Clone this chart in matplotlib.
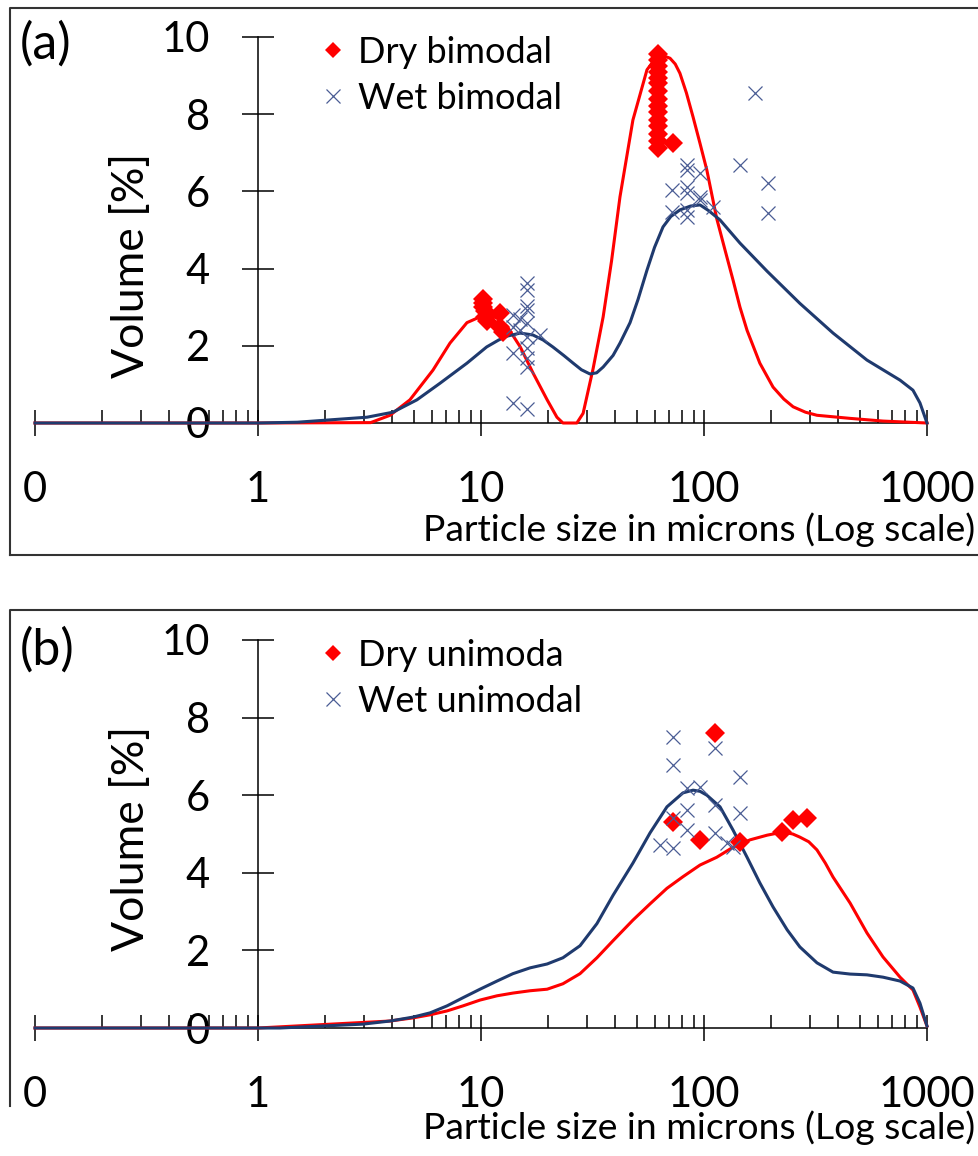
import matplotlib
matplotlib.use("Agg")
import matplotlib.pyplot as plt
from matplotlib.ticker import LogLocator, NullFormatter
from matplotlib.lines import Line2D

plt.rcParams["font.family"] = ["Lato", "DejaVu Sans"]

# ---- panel (a): bimodal ----
a_dry_curve_x = [0.1, 1.0, 3.2, 3.91, 4.8, 6.09, 7.26, 8.65, 9.9, 10.6, 11.8, 13.1, 15.0, 17.1, 19.8,
                 21.9, 23.3, 26.9, 28.7, 31.8, 35.3, 38.5, 42.0, 48.0, 55.5, 59.4, 63.5, 66.8, 70.4,
                 74.3, 78.0, 83.4, 89.3, 95.9, 103, 114, 124, 135, 145, 156, 178, 204, 228, 251,
                 285, 321, 452, 635, 1000]
a_dry_curve_y = [0, 0, 0.01, 0.2, 0.6, 1.37, 2.07, 2.6, 2.75, 2.8, 2.72, 2.5, 1.97, 1.3, 0.6,
                 0.15, 0, 0, 0.25, 1.4, 2.75, 4.2, 5.86, 7.85, 9.15, 9.38, 9.48, 9.5, 9.45,
                 9.3, 9.06, 8.55, 7.93, 7.25, 6.55, 5.3, 4.5, 3.7, 3.0, 2.4, 1.55, 0.93, 0.62, 0.42,
                 0.28, 0.2, 0.12, 0.05, 0]

a_wet_curve_x = [0.1, 1.0, 1.5, 3.08, 4.03, 5.16, 6.55, 8.65, 10.6, 12.0, 13.1, 15.0, 17.1, 19.0,
                 21.0, 23.5, 25.9, 28.2, 30.8, 33.0, 35.3, 39.1, 42.0, 46.6, 50.6, 55.5, 60.0, 65.5,
                 71.0, 78.0, 87.0, 96, 105, 118, 145, 192, 269, 379, 538, 757, 865, 930, 1000]
a_wet_curve_y = [0, 0, 0.02, 0.15, 0.28, 0.6, 1.03, 1.55, 1.97, 2.15, 2.25, 2.33, 2.28, 2.15,
                 1.97, 1.75, 1.55, 1.38, 1.27, 1.3, 1.45, 1.75, 2.07, 2.6, 3.2, 3.96, 4.55, 5.08,
                 5.35, 5.52, 5.62, 5.65, 5.5, 5.26, 4.66, 3.93, 3.1, 2.33, 1.63, 1.11, 0.85, 0.52, 0.0]

a_dry_pts_x = [10.2, 10.2, 10.2, 10.4, 10.4, 10.6, 12.2, 12.2, 12.6,
               62, 62, 62, 62, 62, 62, 62, 62, 62, 62, 62, 62, 62, 62, 62, 72.6]
a_dry_pts_y = [3.2, 3.1, 3.0, 2.9, 2.75, 2.65, 2.85, 2.5, 2.36,
               9.55, 9.4, 9.25, 9.1, 8.95, 8.8, 8.6, 8.4, 8.2, 8.05, 7.85, 7.7, 7.5, 7.3, 7.12, 7.25]

a_wet_pts_x = [16.1, 16.1, 16.1, 16.1, 16.1, 16.1, 16.1, 16.1, 16.1, 13.9, 13.9, 13.9, 18.4, 13.9,
               16.1, 15.0, 15.0, 83.9, 83.9, 95.9, 71.9, 83.9, 83.9, 95.9, 71.9, 83.9, 83.9, 95.9,
               110, 145, 169, 194, 194]
a_wet_pts_y = [3.63, 3.45, 3.03, 2.93, 2.6, 2.23, 1.95, 1.68, 1.45, 2.8, 2.5, 1.81, 2.28, 0.52,
               0.37, 2.7, 2.4, 6.68, 6.55, 6.48, 6.04, 6.11, 5.96, 5.86, 5.47, 5.52, 5.34, 5.78,
               5.6, 6.68, 8.55, 6.22, 5.44]

# ---- panel (b): unimodal ----
b_dry_curve_x = [0.1, 1.0, 1.255, 3.91, 4.95, 5.91, 7.04, 8.3, 9.9, 11.8, 13.9, 16.6, 19.8, 23.3,
                 27.8, 33.1, 39.1, 48.0, 57.3, 68.2, 80.5, 96, 114, 135, 161, 192, 226, 250, 269,
                 295, 321, 350, 379, 452, 538, 635, 757, 865, 930, 1000]
b_dry_curve_y = [0, 0, 0.03, 0.18, 0.26, 0.34, 0.44, 0.57, 0.72, 0.83, 0.9, 0.96, 1.0, 1.14,
                 1.40, 1.81, 2.25, 2.78, 3.2, 3.6, 3.9, 4.2, 4.4, 4.66, 4.85, 4.97, 5.05, 5.0, 4.92,
                 4.8, 4.59, 4.25, 3.89, 3.22, 2.45, 1.83, 1.31, 0.98, 0.54, 0.05]

b_wet_curve_x = [0.1, 1.0, 1.255, 2.96, 3.91, 4.95, 5.91, 7.04, 8.3, 9.9, 11.8, 13.9, 16.6, 19.8,
                 23.3, 27.8, 33.1, 39.1, 48.0, 57.3, 68.2, 80.5, 89.3, 96, 103, 118, 135, 156, 178,
                 204, 236, 269, 321, 379, 452, 538, 635, 757, 865, 930, 1000]
b_wet_curve_y = [0, 0, 0.0, 0.1, 0.18, 0.28, 0.39, 0.57, 0.78, 1.0, 1.21, 1.4, 1.55, 1.65,
                 1.81, 2.12, 2.69, 3.42, 4.25, 5.03, 5.7, 6.06, 6.13, 6.1, 6.0, 5.7, 5.1, 4.4, 3.74,
                 3.12, 2.53, 2.09, 1.68, 1.44, 1.39, 1.37, 1.31, 1.21, 1.03, 0.64, 0.05]

b_dry_pts_x = [72.6, 112, 95.9, 145, 224, 251, 290]
b_dry_pts_y = [5.31, 7.6, 4.85, 4.8, 5.05, 5.36, 5.41]

b_wet_pts_x = [72.6, 72.6, 112, 83.9, 95.9, 145, 83.9, 112, 145, 72.6, 83.9, 112, 63.5, 72.6, 127, 135]
b_wet_pts_y = [7.5, 6.78, 7.22, 6.19, 6.21, 6.47, 5.62, 5.75, 5.54, 5.41, 5.1, 5.03, 4.72, 4.64, 4.77, 4.66]

x_ticks = [0.1, 1, 10, 100, 1000]
x_tick_labels = ["0", "1", "10", "100", "1000"]
y_ticks = [0, 2, 4, 6, 8, 10]

RED = "#FF0000"
NAVY = "#1F3A6E"
SLATE = "#4A5D94"

W, H = 979, 1156
fig = plt.figure(figsize=(W / 100, H / 100), dpi=100)


def add_px_axes(left, right, top, bottom):
    return fig.add_axes([left / W, 1 - bottom / H, (right - left) / W, (bottom - top) / H])


def draw_panel(ax, dry_x, dry_y, wet_x, wet_y, dpx, dpy, wpx, wpy, dry_label, wet_label, leg_top):
    ax.plot(dry_x, dry_y, color=RED, lw=2.2, clip_on=False, zorder=3, solid_joinstyle="round")
    ax.plot(wet_x, wet_y, color=NAVY, lw=2.2, clip_on=False, zorder=3, solid_joinstyle="round")
    ax.plot(dpx, dpy, ls="none", marker="D", ms=10, color=RED, mew=0, zorder=4)
    ax.plot(wpx, wpy, ls="none", marker="x", ms=9.5, color=SLATE, mew=0.9, zorder=5)

    ax.set_xscale("log")
    ax.set_xlim(0.1, 1000)
    ax.set_ylim(0, 10)
    for s in ["top", "right"]:
        ax.spines[s].set_visible(False)
    ax.spines["left"].set_position(("data", 1))
    ax.spines["left"].set_linewidth(1.1)
    ax.spines["bottom"].set_linewidth(1.1)
    ax.patch.set_visible(False)

    ax.set_xticks(x_ticks)
    ax.set_xticklabels(x_tick_labels)
    ax.xaxis.set_minor_locator(LogLocator(base=10, subs=[2, 3, 4, 5, 6, 7, 8, 9], numticks=20))
    ax.xaxis.set_minor_formatter(NullFormatter())
    ax.set_yticks(y_ticks)
    ax.tick_params(axis="y", direction="inout", length=23, width=1.1, pad=23, labelsize=30)
    ax.tick_params(axis="x", which="major", direction="inout", length=19, width=1.1, pad=25, labelsize=30)
    ax.tick_params(axis="x", which="minor", direction="in", length=9.5, width=1.1)

    handles = [
        Line2D([], [], ls="none", marker="D", ms=8.5, color=RED, mew=0),
        Line2D([], [], ls="none", marker="x", ms=9.5, color=SLATE, mew=0.9),
    ]
    ax.legend(handles, [dry_label, wet_label], loc="upper left",
              bbox_to_anchor=(315 / W, 1 - leg_top / H), bbox_transform=fig.transFigure,
              frameon=False, fontsize=26, handlelength=1.0, handletextpad=0.2,
              borderpad=0, borderaxespad=0, labelspacing=0.35)


ax_a = add_px_axes(35, 927, 37, 423)
draw_panel(ax_a, a_dry_curve_x, a_dry_curve_y, a_wet_curve_x, a_wet_curve_y,
           a_dry_pts_x, a_dry_pts_y, a_wet_pts_x, a_wet_pts_y,
           "Dry bimodal", "Wet bimodal", 36)

ax_b = add_px_axes(35, 927, 640, 1028)
draw_panel(ax_b, b_dry_curve_x, b_dry_curve_y, b_wet_curve_x, b_wet_curve_y,
           b_dry_pts_x, b_dry_pts_y, b_wet_pts_x, b_wet_pts_y,
           "Dry unimoda", "Wet unimodal", 639)

# panel labels, axis titles
for label, y_lab, y_vol, y_xl in [("(a)", 44, 265, 530), ("(b)", 650, 838, 1128)]:
    fig.text(20 / W, 1 - y_lab / H, label, fontsize=36, ha="left", va="center")
    fig.text(132 / W, 1 - y_vol / H, "Volume [%]", fontsize=32, rotation=90, ha="center", va="center")
    fig.text(975 / W, 1 - y_xl / H, "Particle size in microns (Log scale)", fontsize=26.8,
             ha="right", va="center")

# panel frames
frame = dict(color="#333333", lw=1.5, transform=fig.transFigure)
fig.add_artist(Line2D([10 / W, 10 / W, 1.0], [1 - 555 / H, 1 - 8 / H, 1 - 8 / H], **frame))
fig.add_artist(Line2D([10 / W, 1.0], [1 - 555 / H, 1 - 555 / H], **frame))
fig.add_artist(Line2D([10 / W, 10 / W, 1.0], [1 - 1106 / H, 1 - 610 / H, 1 - 610 / H], **frame))

fig.savefig("out.png", dpi=100)
